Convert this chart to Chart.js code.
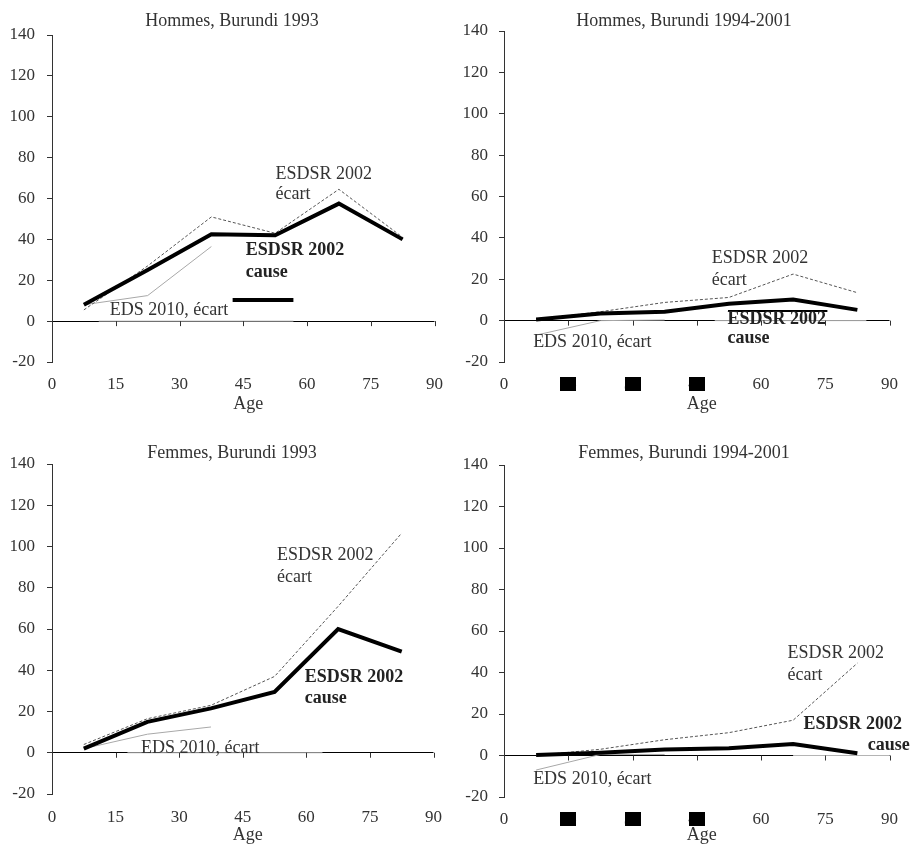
<!DOCTYPE html>
<html>
<head>
<meta charset="utf-8">
<script src="https://cdn.jsdelivr.net/npm/chart.js@4.4.1/dist/chart.umd.min.js"></script>
<style>
  body { margin: 0; background: #fff; }
  .panel { position: absolute; }
</style>
</head>
<body>
<div class="panel" style="left:0;top:0"><canvas id="hom1993" width="455" height="420"></canvas></div>
<div class="panel" style="left:455px;top:0"><canvas id="hom9401" width="455" height="420"></canvas></div>
<div class="panel" style="left:0;top:420px"><canvas id="fem1993" width="455" height="429"></canvas></div>
<div class="panel" style="left:455px;top:420px"><canvas id="fem9401" width="455" height="429"></canvas></div>
<script>
// age group midpoints
const ages = [7.5, 22.5, 37.5, 52.5, 67.5, 82.5];
const edsAges = [7.5, 22.5, 37.5];
const ageTicks = [0, 15, 30, 45, 60, 75, 90];
const valueTicks = [-20, 0, 20, 40, 60, 80, 100, 120, 140];

// Hommes, Burundi 1993
const hom1993Cause = [8, 25, 42.5, 42, 57.5, 40];
const hom1993Ecart = [5.5, 27, 51, 43, 64.5, 41];
const hom1993Eds = [8, 12.5, 36.5];
const hom1993Bar = [[42.5, 10.3], [56.8, 10.3]];
const hom1993Gray = [11, 56.8];

// Hommes, Burundi 1994-2001
const hom9401Cause = [0.5, 3.5, 4.3, 8.2, 10.2, 5.2];
const hom9401Ecart = [0.5, 4.3, 8.8, 11.2, 22.5, 13.5];
const hom9401Eds = [-7, 0, 0.3];
const hom9401Bar = [[52.3, 4.7], [75.5, 4.7]];
const hom9401Gray = [49.2, 84.6];

// Femmes, Burundi 1993
const fem1993Cause = [2, 15, 21.5, 29.5, 60, 49];
const fem1993Ecart = [4, 16.5, 23, 37, 71, 106.5];
const fem1993Eds = [2, 9, 12.5];
const fem1993Gray = [17.8, 63.8];

// Femmes, Burundi 1994-2001
const fem9401Cause = [0.3, 1.3, 2.9, 3.5, 5.5, 1.1];
const fem9401Ecart = [0, 3, 7.6, 11, 17, 44.5];
const fem9401Eds = [-7, 0.5, 0.5];
const fem9401Gray = [67.5, 90];

Chart.defaults.font.family = '"Liberation Serif", "Times New Roman", serif';
Chart.defaults.color = '#333';

const pts = (xs, ys) => xs.map((x, i) => ({ x, y: ys[i] }));

const decor = {
  id: 'decor',
  afterDraw(chart, args, opts) {
    const { ctx, chartArea } = chart;
    const x = chart.scales.x;
    const y = chart.scales.y;
    const y0 = y.getPixelForValue(0);
    ctx.save();
    // tick marks hanging from the zero line
    ctx.strokeStyle = '#333';
    ctx.lineWidth = 1;
    for (const v of ageTicks) {
      if (v === 0) continue;
      const px = Math.round(x.getPixelForValue(v)) + 0.5;
      ctx.beginPath();
      ctx.moveTo(px, y0);
      ctx.lineTo(px, y0 + 5);
      ctx.stroke();
    }
    // blacked-out tick labels
    ctx.fillStyle = '#000';
    for (const v of opts.masked) {
      const px = x.getPixelForValue(v);
      const cy = chartArea.bottom + 21.5;
      ctx.fillRect(Math.round(px - 8), Math.round(cy - 7), 16, 14);
    }
    ctx.fillStyle = '#333';
    ctx.textBaseline = 'alphabetic';
    ctx.textAlign = 'center';
    ctx.font = '18px "Liberation Serif"';
    ctx.fillText(opts.title, opts.titleX, opts.titleY);
    ctx.fillText('Age', (chartArea.left + chartArea.right) / 2 + 5, opts.ageY);
    ctx.textAlign = 'left';
    for (const lb of opts.labels) {
      ctx.font = (lb.bold ? 'bold ' : '') + '18px "Liberation Serif"';
      ctx.fillStyle = lb.bold ? '#222' : '#333';
      ctx.fillText(lb.text, x.getPixelForValue(lb.at[0]), y.getPixelForValue(lb.at[1]));
    }
    ctx.restore();
  },
};

function makePanel(id, s) {
  const datasets = [
    { data: pts(ages, s.cause), borderColor: '#000', borderWidth: 4 },
  ];
  if (s.bar) {
    datasets.push({ data: s.bar.map(([x, y]) => ({ x, y })), borderColor: '#000', borderWidth: s.barWidth });
  }
  datasets.push(
    { data: pts(ages, s.ecart), borderColor: '#555', borderWidth: 1, borderDash: [3, 2] },
    { data: pts(edsAges, s.eds), borderColor: '#a8a8a8', borderWidth: 1 },
    { data: s.gray.map((x) => ({ x, y: 0 })), borderColor: '#b4b4b4', borderWidth: 1 },
  );
  datasets.forEach((d) => {
    d.pointRadius = 0;
    d.tension = 0;
    d.fill = false;
  });

  new Chart(document.getElementById(id), {
    type: 'line',
    data: { datasets },
    options: {
      responsive: false,
      animation: false,
      layout: { padding: { top: s.top, right: s.right, left: 0, bottom: 0 } },
      plugins: {
        legend: { display: false },
        tooltip: { enabled: false },
        decor: s.decor,
      },
      scales: {
        x: {
          type: 'linear',
          min: 0,
          max: 90,
          afterBuildTicks: (sc) => { sc.ticks = ageTicks.map((value) => ({ value })); },
          afterFit: (sc) => { sc.height = s.xHeight; },
          ticks: { padding: s.xPad, maxRotation: 0, autoSkip: false, font: { size: 17 }, color: '#333' },
          grid: { display: false, drawTicks: false },
          border: { display: false },
        },
        y: {
          min: -20,
          max: 140,
          afterBuildTicks: (sc) => { sc.ticks = valueTicks.map((value) => ({ value })); },
          afterFit: (sc) => { sc.width = s.left; },
          ticks: { padding: s.yPad, font: { size: 17 }, color: '#333' },
          grid: {
            color: (c) => (c.tick && c.tick.value === 0 ? '#000' : 'rgba(0,0,0,0)'),
            tickColor: '#333',
            tickLength: 5,
          },
          border: { display: true, color: '#333' },
        },
      },
    },
    plugins: [decor],
  });
}

makePanel('hom1993', {
  cause: hom1993Cause, ecart: hom1993Ecart, eds: hom1993Eds,
  bar: hom1993Bar, barWidth: 4, gray: hom1993Gray,
  left: 52, right: 18, top: 35, xHeight: 58, xPad: 12, yPad: 12,
  decor: {
    title: 'Hommes, Burundi 1993', titleX: 232, titleY: 26, ageY: 409, masked: [],
    labels: [
      { text: 'ESDSR 2002', at: [52.6, 69.5] },
      { text: 'écart', at: [52.6, 59.7] },
      { text: 'ESDSR 2002', at: [45.6, 32.3], bold: true },
      { text: 'cause', at: [45.6, 21.5], bold: true },
      { text: 'EDS 2010, écart', at: [13.6, 3.0] },
    ],
  },
});

makePanel('hom9401', {
  cause: hom9401Cause, ecart: hom9401Ecart, eds: hom9401Eds,
  bar: hom9401Bar, barWidth: 2, gray: hom9401Gray,
  left: 49, right: 20, top: 31, xHeight: 58, xPad: 12, yPad: 11,
  decor: {
    title: 'Hommes, Burundi 1994-2001', titleX: 229, titleY: 26, ageY: 409, masked: [15, 30, 45],
    labels: [
      { text: 'ESDSR 2002', at: [48.5, 27.8] },
      { text: 'écart', at: [48.5, 17.2] },
      { text: 'ESDSR 2002', at: [52.2, -1.6], bold: true },
      { text: 'cause', at: [52.2, -10.8], bold: true },
      { text: 'EDS 2010, écart', at: [6.8, -12.7] },
    ],
  },
});

makePanel('fem1993', {
  cause: fem1993Cause, ecart: fem1993Ecart, eds: fem1993Eds,
  gray: fem1993Gray,
  left: 52, right: 18, top: 44, xHeight: 55, xPad: 13, yPad: 12,
  decor: {
    title: 'Femmes, Burundi 1993', titleX: 232, titleY: 38, ageY: 420, masked: [],
    labels: [
      { text: 'ESDSR 2002', at: [53.1, 93.4] },
      { text: 'écart', at: [53.1, 82.9] },
      { text: 'ESDSR 2002', at: [59.6, 34.4], bold: true },
      { text: 'cause', at: [59.6, 23.9], bold: true },
      { text: 'EDS 2010, écart', at: [21.0, -0.3] },
    ],
  },
});

makePanel('fem9401', {
  cause: fem9401Cause, ecart: fem9401Ecart, eds: fem9401Eds,
  gray: fem9401Gray,
  left: 49, right: 20, top: 45, xHeight: 52, xPad: 12, yPad: 11,
  decor: {
    title: 'Femmes, Burundi 1994-2001', titleX: 229, titleY: 38, ageY: 420, masked: [15, 30, 45],
    labels: [
      { text: 'ESDSR 2002', at: [66.2, 46.8] },
      { text: 'écart', at: [66.2, 36.4] },
      { text: 'ESDSR 2002', at: [69.9, 13.0], bold: true },
      { text: 'cause', at: [84.9, 2.6], bold: true },
      { text: 'EDS 2010, écart', at: [6.8, -13.5] },
    ],
  },
});
</script>
</body>
</html>
